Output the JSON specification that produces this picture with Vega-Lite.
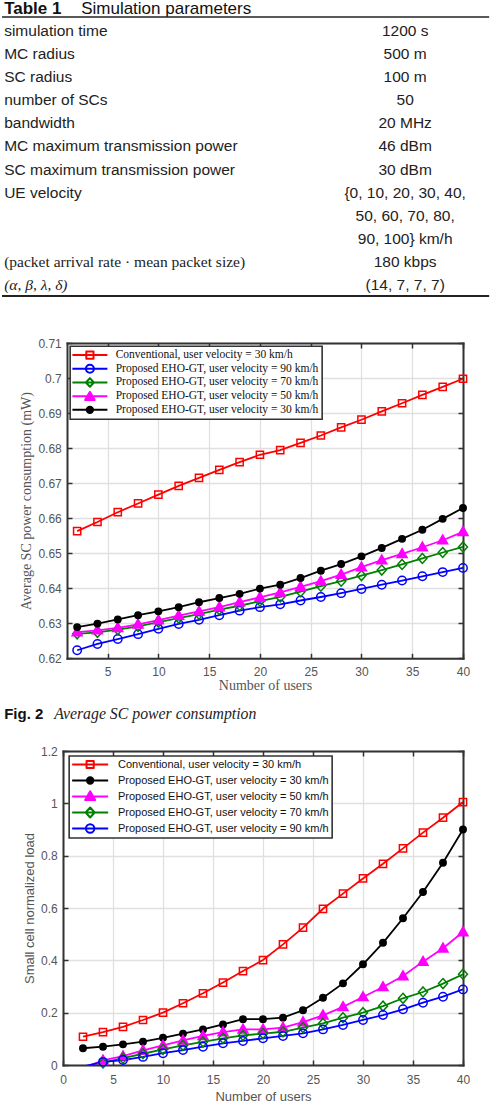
{
  "$schema": "https://vega.github.io/schema/vega-lite/v6.json",
  "padding": 0,
  "spacing": 0,
  "background": "white",
  "config": {
    "view": {"stroke": null},
    "axis": {
      "labelFont": "Liberation Sans", "labelFontSize": 12, "labelColor": "#555",
      "domainColor": "#333", "domainWidth": 2, "domainCap": "square",
      "tickColor": "#333", "tickWidth": 1.5, "tickSize": -5,
      "gridColor": "#e0e0e0", "gridWidth": 1.3,
      "titleFontWeight": "normal", "titleColor": "#555",
      "labelFlush": false, "labelOverlap": false, "labelBound": false
    }
  },
  "resolve": {"scale": {"stroke": "independent", "fill": "independent", "shape": "independent"}},
  "datasets": {
    "tbl": [
      {"row": 1, "param": "simulation time", "value": "1200 s"},
      {"row": 2, "param": "MC radius", "value": "500 m"},
      {"row": 3, "param": "SC radius", "value": "100 m"},
      {"row": 4, "param": "number of SCs", "value": "50"},
      {"row": 5, "param": "bandwidth", "value": "20 MHz"},
      {"row": 6, "param": "MC maximum transmission power", "value": "46 dBm"},
      {"row": 7, "param": "SC maximum transmission power", "value": "30 dBm"},
      {"row": 8, "param": "UE velocity", "value": "{0, 10, 20, 30, 40,"},
      {"row": 9, "param": "", "value": "50, 60, 70, 80,"},
      {"row": 10, "param": "", "value": "90, 100} km/h"},
      {"row": 11, "param": "(packet arrival rate · mean packet size)", "value": "180 kbps"},
      {"row": 12, "param": "(α, β, λ, δ)", "value": "(14, 7, 7, 7)"}
    ],
    "c1": [
      {"users": 2, "conv": 0.6563, "v90": 0.6223, "v70": 0.6270, "v50": 0.6275, "v30": 0.6289},
      {"users": 4, "conv": 0.6589, "v90": 0.6241, "v70": 0.6274, "v50": 0.6280, "v30": 0.6299},
      {"users": 6, "conv": 0.6617, "v90": 0.6255, "v70": 0.6282, "v50": 0.6287, "v30": 0.6311},
      {"users": 8, "conv": 0.6642, "v90": 0.6269, "v70": 0.6291, "v50": 0.6297, "v30": 0.6323},
      {"users": 10, "conv": 0.6667, "v90": 0.6284, "v70": 0.6303, "v50": 0.6309, "v30": 0.6334},
      {"users": 12, "conv": 0.6692, "v90": 0.6298, "v70": 0.6315, "v50": 0.6322, "v30": 0.6346},
      {"users": 14, "conv": 0.6715, "v90": 0.6310, "v70": 0.6326, "v50": 0.6334, "v30": 0.6360},
      {"users": 16, "conv": 0.6738, "v90": 0.6323, "v70": 0.6339, "v50": 0.6346, "v30": 0.6372},
      {"users": 18, "conv": 0.6760, "v90": 0.6336, "v70": 0.6350, "v50": 0.6360, "v30": 0.6384},
      {"users": 20, "conv": 0.6781, "v90": 0.6346, "v70": 0.6363, "v50": 0.6374, "v30": 0.6399},
      {"users": 22, "conv": 0.6794, "v90": 0.6354, "v70": 0.6375, "v50": 0.6388, "v30": 0.6410},
      {"users": 24, "conv": 0.6815, "v90": 0.6365, "v70": 0.6390, "v50": 0.6404, "v30": 0.6429},
      {"users": 26, "conv": 0.6836, "v90": 0.6375, "v70": 0.6406, "v50": 0.6420, "v30": 0.6450},
      {"users": 28, "conv": 0.6859, "v90": 0.6386, "v70": 0.6420, "v50": 0.6439, "v30": 0.6469},
      {"users": 30, "conv": 0.6881, "v90": 0.6398, "v70": 0.6436, "v50": 0.6460, "v30": 0.6491},
      {"users": 32, "conv": 0.6905, "v90": 0.6410, "v70": 0.6452, "v50": 0.6480, "v30": 0.6515},
      {"users": 34, "conv": 0.6928, "v90": 0.6422, "v70": 0.6468, "v50": 0.6498, "v30": 0.6541},
      {"users": 36, "conv": 0.6952, "v90": 0.6434, "v70": 0.6485, "v50": 0.6517, "v30": 0.6567},
      {"users": 38, "conv": 0.6975, "v90": 0.6446, "v70": 0.6502, "v50": 0.6537, "v30": 0.6598},
      {"users": 40, "conv": 0.6998, "v90": 0.6458, "v70": 0.6518, "v50": 0.6561, "v30": 0.6629}
    ],
    "c2": [
      {"users": 2, "conv": 0.108, "v30": 0.064, "v50": -0.012, "v70": -0.02, "v90": -0.006},
      {"users": 4, "conv": 0.126, "v30": 0.070, "v50": 0.018, "v70": 0.008, "v90": 0.012},
      {"users": 6, "conv": 0.146, "v30": 0.079, "v50": 0.034, "v70": 0.026, "v90": 0.019},
      {"users": 8, "conv": 0.172, "v30": 0.089, "v50": 0.056, "v70": 0.043, "v90": 0.031},
      {"users": 10, "conv": 0.200, "v30": 0.104, "v50": 0.075, "v70": 0.060, "v90": 0.045},
      {"users": 12, "conv": 0.236, "v30": 0.120, "v50": 0.094, "v70": 0.075, "v90": 0.057},
      {"users": 14, "conv": 0.274, "v30": 0.136, "v50": 0.111, "v70": 0.088, "v90": 0.070},
      {"users": 16, "conv": 0.315, "v30": 0.155, "v50": 0.126, "v70": 0.102, "v90": 0.083},
      {"users": 18, "conv": 0.359, "v30": 0.175, "v50": 0.136, "v70": 0.113, "v90": 0.092},
      {"users": 20, "conv": 0.401, "v30": 0.175, "v50": 0.136, "v70": 0.120, "v90": 0.102},
      {"users": 22, "conv": 0.461, "v30": 0.181, "v50": 0.143, "v70": 0.127, "v90": 0.111},
      {"users": 24, "conv": 0.525, "v30": 0.209, "v50": 0.164, "v70": 0.143, "v90": 0.121},
      {"users": 26, "conv": 0.597, "v30": 0.257, "v50": 0.190, "v70": 0.159, "v90": 0.136},
      {"users": 28, "conv": 0.655, "v30": 0.312, "v50": 0.222, "v70": 0.181, "v90": 0.153},
      {"users": 30, "conv": 0.713, "v30": 0.385, "v50": 0.260, "v70": 0.200, "v90": 0.172},
      {"users": 32, "conv": 0.769, "v30": 0.467, "v50": 0.298, "v70": 0.225, "v90": 0.191},
      {"users": 34, "conv": 0.828, "v30": 0.561, "v50": 0.340, "v70": 0.255, "v90": 0.213},
      {"users": 36, "conv": 0.888, "v30": 0.661, "v50": 0.395, "v70": 0.279, "v90": 0.238},
      {"users": 38, "conv": 0.945, "v30": 0.773, "v50": 0.446, "v70": 0.311, "v90": 0.261},
      {"users": 40, "conv": 1.005, "v30": 0.900, "v50": 0.508, "v70": 0.347, "v90": 0.289}
    ]
  },
  "vconcat": [
    {
      "width": 400, "height": 336,
      "data": {"name": "tbl"},
      "layer": [
        {
          "data": {"values": [{"t": "Table 1"}]},
          "mark": {"type": "text", "align": "left", "baseline": "middle", "font": "Liberation Sans", "fontSize": 17, "fontWeight": "bold", "color": "#111"},
          "encoding": {
            "x": {"datum": 3, "type": "quantitative", "scale": {"domain": [0, 493], "range": [-61.85, 431.15], "nice": false, "zero": false}, "axis": null},
            "y": {"datum": 0.059, "type": "quantitative", "scale": {"domain": [-0.3096, 14.2611], "reverse": true, "nice": false, "zero": false}, "axis": null},
            "text": {"field": "t"}
          }
        },
        {
          "data": {"values": [{"t": "Simulation parameters"}]},
          "mark": {"type": "text", "align": "left", "baseline": "middle", "font": "Liberation Sans", "fontSize": 17, "color": "#111"},
          "encoding": {
            "x": {"datum": 80, "type": "quantitative", "axis": null},
            "y": {"datum": 0.059, "type": "quantitative", "axis": null},
            "text": {"field": "t"}
          }
        },
        {
          "data": {"values": [{"edge": "top"}]},
          "mark": {"type": "rule", "color": "#222", "strokeWidth": 1.7},
          "encoding": {
            "x": {"datum": 0.85, "type": "quantitative", "axis": null},
            "x2": {"datum": 488},
            "y": {"datum": 0.3842, "type": "quantitative", "axis": null}
          }
        },
        {
          "data": {"values": [{"edge": "bottom"}]},
          "mark": {"type": "rule", "color": "#222", "strokeWidth": 2},
          "encoding": {
            "x": {"datum": 0.85, "type": "quantitative", "axis": null},
            "x2": {"datum": 488},
            "y": {"datum": 12.483, "type": "quantitative", "axis": null}
          }
        },
        {
          "transform": [{"filter": "datum.row <= 10"}],
          "mark": {"type": "text", "align": "left", "baseline": "middle", "font": "Liberation Sans", "fontSize": 15.5, "color": "#222"},
          "encoding": {
            "x": {"datum": 3, "type": "quantitative", "axis": null},
            "y": {"field": "row", "type": "quantitative", "axis": null},
            "text": {"field": "param"}
          }
        },
        {
          "transform": [{"filter": "datum.row == 11"}],
          "mark": {"type": "text", "align": "left", "baseline": "middle", "font": "Liberation Serif", "fontSize": 15.5, "color": "#222"},
          "encoding": {
            "x": {"datum": 3, "type": "quantitative", "axis": null},
            "y": {"field": "row", "type": "quantitative", "axis": null},
            "text": {"field": "param"}
          }
        },
        {
          "transform": [{"filter": "datum.row == 12"}],
          "mark": {"type": "text", "align": "left", "baseline": "middle", "font": "Liberation Serif", "fontStyle": "italic", "fontSize": 15.5, "color": "#222"},
          "encoding": {
            "x": {"datum": 3, "type": "quantitative", "axis": null},
            "y": {"field": "row", "type": "quantitative", "axis": null},
            "text": {"field": "param"}
          }
        },
        {
          "mark": {"type": "text", "align": "center", "baseline": "middle", "font": "Liberation Sans", "fontSize": 15.5, "color": "#222"},
          "encoding": {
            "x": {"datum": 404, "type": "quantitative", "axis": null},
            "y": {"field": "row", "type": "quantitative", "axis": null},
            "text": {"field": "value"}
          }
        }
      ]
    },
    {
      "width": 400, "height": 315.3,
      "data": {"name": "c1"},
      "transform": [{"fold": ["conv", "v90", "v70", "v50", "v30"], "as": ["series", "value"]}],
      "layer": [
        {
          "mark": {"type": "line", "strokeWidth": 1.8},
          "encoding": {
            "x": {"field": "users", "type": "quantitative",
              "scale": {"domain": [1, 40], "range": [4, 400], "nice": false, "zero": false},
              "axis": {"orient": "bottom", "values": [5, 10, 15, 20, 25, 30, 35, 40], "grid": true, "title": "Number of users", "titleFont": "Liberation Serif", "titleFontSize": 14, "labelPadding": 13.5, "titlePadding": 1}},
            "y": {"field": "value", "type": "quantitative",
              "scale": {"domain": [0.62, 0.71], "nice": false, "zero": false},
              "axis": {"orient": "left", "offset": -4, "values": [0.62, 0.63, 0.64, 0.65, 0.66, 0.67, 0.68, 0.69, 0.7, 0.71], "format": "~g", "grid": true, "title": "Average SC power consumption (mW)", "titleFont": "Liberation Serif", "titleFontSize": 14, "labelPadding": 10.7, "titlePadding": 4}},
            "stroke": {"field": "series", "type": "nominal", "scale": {"domain": ["conv", "v90", "v70", "v50", "v30"], "range": ["#ff0000", "#0000ff", "#008000", "#ff00ff", "#000000"]}, "legend": null}
          }
        },
        {
          "mark": {"type": "point", "filled": false, "size": 4, "strokeWidth": 1.5, "opacity": 1},
          "encoding": {
            "x": {"field": "users", "type": "quantitative",
              "axis": {"orient": "top", "values": [5, 10, 15, 20, 25, 30, 35, 40], "labels": false, "title": null, "grid": false}},
            "y": {"field": "value", "type": "quantitative",
              "axis": {"orient": "right", "values": [0.62, 0.63, 0.64, 0.65, 0.66, 0.67, 0.68, 0.69, 0.7, 0.71], "labels": false, "title": null, "grid": false}},
            "shape": {"field": "series", "type": "nominal", "scale": {"domain": ["conv", "v90", "v70", "v50", "v30"], "range": ["M-3.6,-3.6H3.6V3.6H-3.6Z", "M-4.2,0A4.2,4.2,0,1,1,4.2,0A4.2,4.2,0,1,1,-4.2,0Z", "M0,-5L4.5,0L0,5L-4.5,0Z", "M0,-5.2L5,3.6L-5,3.6Z", "M-3.2,0A3.2,3.2,0,1,1,3.2,0A3.2,3.2,0,1,1,-3.2,0Z"]}, "legend": null},
            "stroke": {"field": "series", "type": "nominal", "scale": {"domain": ["conv", "v90", "v70", "v50", "v30"], "range": ["#ff0000", "#0000ff", "#008000", "#ff00ff", "#000000"]}, "legend": null},
            "fill": {"field": "series", "type": "nominal", "scale": {"domain": ["conv", "v90", "v70", "v50", "v30"], "range": ["transparent", "transparent", "transparent", "#ff00ff", "#000000"]}, "legend": null}
          }
        },
        {
          "transform": [{"filter": "false"}],
          "mark": {"type": "point", "filled": false, "size": 4, "strokeWidth": 2, "strokeJoin": "round", "opacity": 1},
          "encoding": {
            "shape": {"field": "series", "type": "nominal",
              "scale": {"domain": ["conv", "v90", "v70", "v50", "v30"], "range": ["M0,-4.3M0,4.3M-17.5,0H17.5M-3.6,-3.6H3.6V3.6H-3.6Z", "M0,-4.3M0,4.3M-17.5,0H17.5M-4,0A4,4,0,1,1,4,0A4,4,0,1,1,-4,0Z", "M0,-4.3M0,4.3M-17.5,0H17.5M0,-4.3L4,0L0,4.3L-4,0Z", "M0,-4.3M0,4.3M-17.5,0H17.5M0,-4.3L4.8,3.8L-4.8,3.8Z", "M0,-4.3M0,4.3M-17.5,0H17.5M-3.2,0A3.2,3.2,0,1,1,3.2,0A3.2,3.2,0,1,1,-3.2,0Z"]},
              "legend": {"title": null, "orient": "none", "legendX": 7.15, "legendY": 3.3, "padding": 3, "rowPadding": 0.7, "symbolSize": 4, "symbolStrokeWidth": 2, "symbolOffset": 11, "labelOffset": 20, "symbolFillColor": "transparent", "symbolStrokeColor": "black", "symbolOpacity": 1, "labelFont": "Liberation Serif", "labelFontSize": 11.5, "labelColor": "#111", "labelLimit": 0, "strokeColor": "#333", "fillColor": "white", "labelExpr": "datum.label == 'conv' ? 'Conventional, user velocity = 30 km/h' : 'Proposed EHO-GT, user velocity = ' + substring(datum.label, 1) + ' km/h'", "encode": {"legend": {"update": {"strokeWidth": {"value": 1.6}}}, "symbols": {"update": {"strokeJoin": {"value": "round"}}}}}},
            "stroke": {"field": "series", "type": "nominal",
              "scale": {"domain": ["conv", "v90", "v70", "v50", "v30"], "range": ["#ff0000", "#0000ff", "#008000", "#ff00ff", "#000000"]},
              "legend": {"title": null, "orient": "none", "legendX": 7.15, "legendY": 3.3, "padding": 3, "rowPadding": 0.7, "symbolSize": 4, "symbolStrokeWidth": 2, "symbolOffset": 11, "labelOffset": 20, "symbolFillColor": "transparent", "symbolStrokeColor": "black", "symbolOpacity": 1, "labelFont": "Liberation Serif", "labelFontSize": 11.5, "labelColor": "#111", "labelLimit": 0, "strokeColor": "#333", "fillColor": "white", "labelExpr": "datum.label == 'conv' ? 'Conventional, user velocity = 30 km/h' : 'Proposed EHO-GT, user velocity = ' + substring(datum.label, 1) + ' km/h'", "encode": {"legend": {"update": {"strokeWidth": {"value": 1.6}}}, "symbols": {"update": {"strokeJoin": {"value": "round"}}}}}},
            "fill": {"field": "series", "type": "nominal",
              "scale": {"domain": ["conv", "v90", "v70", "v50", "v30"], "range": ["transparent", "transparent", "transparent", "#ff00ff", "#000000"]},
              "legend": {"title": null, "orient": "none", "legendX": 7.15, "legendY": 3.3, "padding": 3, "rowPadding": 0.7, "symbolSize": 4, "symbolStrokeWidth": 2, "symbolOffset": 11, "labelOffset": 20, "symbolFillColor": "transparent", "symbolStrokeColor": "black", "symbolOpacity": 1, "labelFont": "Liberation Serif", "labelFontSize": 11.5, "labelColor": "#111", "labelLimit": 0, "strokeColor": "#333", "fillColor": "white", "labelExpr": "datum.label == 'conv' ? 'Conventional, user velocity = 30 km/h' : 'Proposed EHO-GT, user velocity = ' + substring(datum.label, 1) + ' km/h'", "encode": {"legend": {"update": {"strokeWidth": {"value": 1.6}}}, "symbols": {"update": {"strokeJoin": {"value": "round"}}}}}}
          }
        }
      ],
      "resolve": {"scale": {"stroke": "independent", "fill": "independent", "shape": "independent"}, "axis": {"x": "independent", "y": "independent"}}
    },
    {
      "width": 400, "height": 51.2,
      "layer": [
        {
          "data": {"values": [{"t": "Fig. 2"}]},
          "mark": {"type": "text", "align": "left", "baseline": "middle", "font": "Liberation Sans", "fontSize": 15, "fontWeight": "bold", "color": "#111"},
          "encoding": {
            "x": {"datum": 3, "type": "quantitative", "scale": {"domain": [0, 493], "range": [-61.85, 431.15], "nice": false, "zero": false}, "axis": null},
            "y": {"datum": 20.6, "type": "quantitative", "scale": {"domain": [0, 51.2], "reverse": true, "nice": false, "zero": false}, "axis": null},
            "text": {"field": "t"}
          }
        },
        {
          "data": {"values": [{"t": "Average SC power consumption"}]},
          "mark": {"type": "text", "align": "left", "baseline": "middle", "font": "Liberation Serif", "fontStyle": "italic", "fontSize": 15.8, "color": "#222"},
          "encoding": {
            "x": {"datum": 53, "type": "quantitative", "axis": null},
            "y": {"datum": 20.6, "type": "quantitative", "axis": null},
            "text": {"field": "t"}
          }
        }
      ]
    },
    {
      "width": 400, "height": 314,
      "data": {"name": "c2"},
      "transform": [{"fold": ["conv", "v30", "v50", "v70", "v90"], "as": ["series", "value"]}],
      "layer": [
        {
          "mark": {"type": "line", "strokeWidth": 1.8, "clip": true},
          "encoding": {
            "x": {"field": "users", "type": "quantitative",
              "scale": {"domain": [0, 40], "nice": false, "zero": false},
              "axis": {"orient": "bottom", "values": [0, 5, 10, 15, 20, 25, 30, 35, 40], "grid": true, "title": "Number of users", "titleFont": "Liberation Sans", "titleFontSize": 13, "labelPadding": 14.8, "titlePadding": 5}},
            "y": {"field": "value", "type": "quantitative",
              "scale": {"domain": [0, 1.2], "nice": false, "zero": false},
              "axis": {"orient": "left", "values": [0, 0.2, 0.4, 0.6, 0.8, 1, 1.2], "format": "~g", "grid": true, "title": "Small cell normalized load", "titleFont": "Liberation Sans", "titleFontSize": 13, "labelPadding": 10.7, "titlePadding": 4}},
            "stroke": {"field": "series", "type": "nominal", "scale": {"domain": ["conv", "v30", "v50", "v70", "v90"], "range": ["#ff0000", "#000000", "#ff00ff", "#008000", "#0000ff"]}, "legend": null}
          }
        },
        {
          "transform": [{"filter": "datum.value >= 0"}],
          "mark": {"type": "point", "filled": false, "size": 4, "strokeWidth": 1.5, "opacity": 1},
          "encoding": {
            "x": {"field": "users", "type": "quantitative",
              "axis": {"orient": "top", "values": [0, 5, 10, 15, 20, 25, 30, 35, 40], "labels": false, "title": null, "grid": false}},
            "y": {"field": "value", "type": "quantitative",
              "axis": {"orient": "right", "values": [0, 0.2, 0.4, 0.6, 0.8, 1, 1.2], "labels": false, "title": null, "grid": false}},
            "shape": {"field": "series", "type": "nominal", "scale": {"domain": ["conv", "v30", "v50", "v70", "v90"], "range": ["M-3.6,-3.6H3.6V3.6H-3.6Z", "M-3.2,0A3.2,3.2,0,1,1,3.2,0A3.2,3.2,0,1,1,-3.2,0Z", "M0,-5.2L5,3.6L-5,3.6Z", "M0,-5L4.5,0L0,5L-4.5,0Z", "M-4.2,0A4.2,4.2,0,1,1,4.2,0A4.2,4.2,0,1,1,-4.2,0Z"]}, "legend": null},
            "stroke": {"field": "series", "type": "nominal", "scale": {"domain": ["conv", "v30", "v50", "v70", "v90"], "range": ["#ff0000", "#000000", "#ff00ff", "#008000", "#0000ff"]}, "legend": null},
            "fill": {"field": "series", "type": "nominal", "scale": {"domain": ["conv", "v30", "v50", "v70", "v90"], "range": ["transparent", "#000000", "#ff00ff", "transparent", "transparent"]}, "legend": null}
          }
        },
        {
          "transform": [{"filter": "false"}],
          "mark": {"type": "point", "filled": false, "size": 4, "strokeWidth": 2, "strokeJoin": "round", "opacity": 1},
          "encoding": {
            "shape": {"field": "series", "type": "nominal",
              "scale": {"domain": ["conv", "v30", "v50", "v70", "v90"], "range": ["M0,-5.5M0,5.5M-18,0H18M-3.6,-3.6H3.6V3.6H-3.6Z", "M0,-5.5M0,5.5M-18,0H18M-3.2,0A3.2,3.2,0,1,1,3.2,0A3.2,3.2,0,1,1,-3.2,0Z", "M0,-5.5M0,5.5M-18,0H18M0,-5.2L5,3.6L-5,3.6Z", "M0,-5.5M0,5.5M-18,0H18M0,-5L4.5,0L0,5L-4.5,0Z", "M0,-5.5M0,5.5M-18,0H18M-4.2,0A4.2,4.2,0,1,1,4.2,0A4.2,4.2,0,1,1,-4.2,0Z"]},
              "legend": {"title": null, "orient": "none", "legendX": 6.15, "legendY": 5, "padding": 3, "rowPadding": 3, "symbolSize": 4, "symbolStrokeWidth": 2, "symbolOffset": 12.5, "labelOffset": 22.3, "symbolFillColor": "transparent", "symbolStrokeColor": "black", "symbolOpacity": 1, "labelFont": "Liberation Sans", "labelFontSize": 11, "labelColor": "#111", "labelLimit": 0, "strokeColor": "#333", "fillColor": "white", "labelExpr": "datum.label == 'conv' ? 'Conventional, user velocity = 30 km/h' : 'Proposed EHO-GT, user velocity = ' + substring(datum.label, 1) + ' km/h'", "encode": {"legend": {"update": {"strokeWidth": {"value": 1.6}}}, "symbols": {"update": {"strokeJoin": {"value": "round"}}}}}},
            "stroke": {"field": "series", "type": "nominal",
              "scale": {"domain": ["conv", "v30", "v50", "v70", "v90"], "range": ["#ff0000", "#000000", "#ff00ff", "#008000", "#0000ff"]},
              "legend": {"title": null, "orient": "none", "legendX": 6.15, "legendY": 5, "padding": 3, "rowPadding": 3, "symbolSize": 4, "symbolStrokeWidth": 2, "symbolOffset": 12.5, "labelOffset": 22.3, "symbolFillColor": "transparent", "symbolStrokeColor": "black", "symbolOpacity": 1, "labelFont": "Liberation Sans", "labelFontSize": 11, "labelColor": "#111", "labelLimit": 0, "strokeColor": "#333", "fillColor": "white", "labelExpr": "datum.label == 'conv' ? 'Conventional, user velocity = 30 km/h' : 'Proposed EHO-GT, user velocity = ' + substring(datum.label, 1) + ' km/h'", "encode": {"legend": {"update": {"strokeWidth": {"value": 1.6}}}, "symbols": {"update": {"strokeJoin": {"value": "round"}}}}}},
            "fill": {"field": "series", "type": "nominal",
              "scale": {"domain": ["conv", "v30", "v50", "v70", "v90"], "range": ["transparent", "#000000", "#ff00ff", "transparent", "transparent"]},
              "legend": {"title": null, "orient": "none", "legendX": 6.15, "legendY": 5, "padding": 3, "rowPadding": 3, "symbolSize": 4, "symbolStrokeWidth": 2, "symbolOffset": 12.5, "labelOffset": 22.3, "symbolFillColor": "transparent", "symbolStrokeColor": "black", "symbolOpacity": 1, "labelFont": "Liberation Sans", "labelFontSize": 11, "labelColor": "#111", "labelLimit": 0, "strokeColor": "#333", "fillColor": "white", "labelExpr": "datum.label == 'conv' ? 'Conventional, user velocity = 30 km/h' : 'Proposed EHO-GT, user velocity = ' + substring(datum.label, 1) + ' km/h'", "encode": {"legend": {"update": {"strokeWidth": {"value": 1.6}}}, "symbols": {"update": {"strokeJoin": {"value": "round"}}}}}}
          }
        }
      ],
      "resolve": {"scale": {"stroke": "independent", "fill": "independent", "shape": "independent"}, "axis": {"x": "independent", "y": "independent"}}
    }
  ]
}
